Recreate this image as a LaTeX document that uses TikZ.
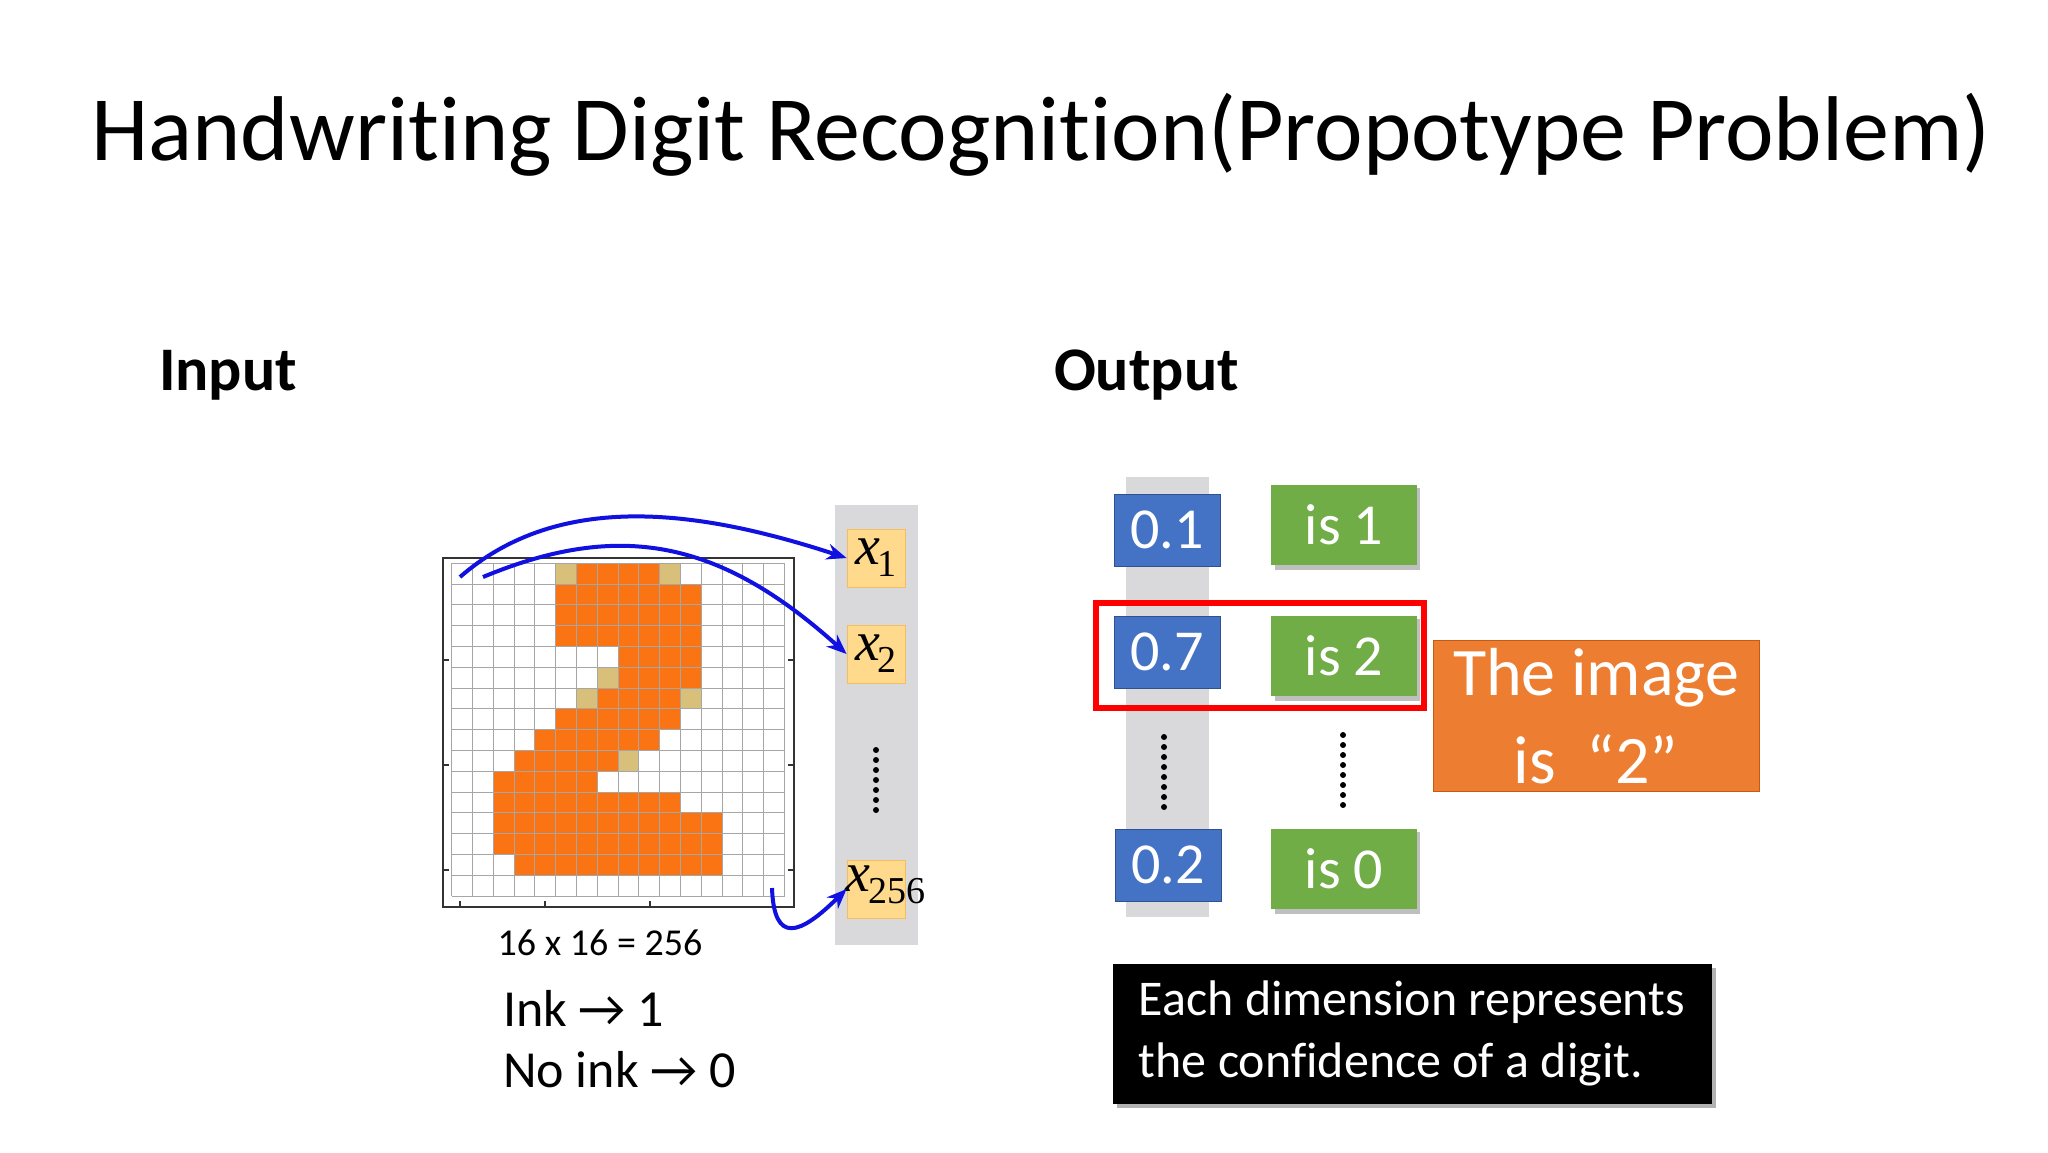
\documentclass[tikz,border=0pt]{standalone}
\usepackage{fontspec}
\setmainfont{Carlito}[Ligatures=NoCommon]
\newfontfamily\serifx{Liberation Serif}
\usetikzlibrary{arrows.meta}
\definecolor{inkor}{HTML}{FA7414}
\definecolor{tan}{HTML}{D8C07A}
\definecolor{xfill}{HTML}{FFD98C}
\definecolor{xline}{HTML}{F2BE60}
\definecolor{colgray}{HTML}{D9D9DB}
\definecolor{bluebox}{HTML}{4472C4}
\definecolor{blueline}{HTML}{2F528F}
\definecolor{greenbox}{HTML}{70AD47}
\definecolor{orbox}{HTML}{ED7D31}
\definecolor{orline}{HTML}{C55A11}
\definecolor{arrowblue}{HTML}{1010E0}
\tikzset{
  xbox/.style={draw=xline,fill=xfill,minimum width=29pt,minimum height=29pt,inner sep=0pt},
  valbox/.style={draw=blueline,fill=bluebox,text=white,minimum width=53pt,minimum height=36pt,inner sep=0pt,font=\fontsize{29}{32}\selectfont},
  isbox/.style={fill=greenbox,text=white,minimum width=73pt,minimum height=40pt,inner sep=0pt,font=\fontsize{29}{32}\selectfont},
  conn/.style={arrowblue,line width=2pt,-{Stealth[length=10pt,width=8pt]}},
  vdots/.style={line width=3pt,dash pattern=on 0pt off 5pt,line cap=round}
}
\begin{document}
\begin{tikzpicture}[x=0.5pt,y=-0.5pt]
\useasboundingbox (0,0) rectangle (2048,1152);
\fill[white] (0,0) rectangle (2048,1152);
% title
\node (title) at (1041,135) {\fontsize{46}{52}\selectfont Handwriting Digit Recognition(Propotype Problem)};
\node[anchor=west] (input) at (152,375) {\fontsize{31}{36}\selectfont\bfseries Input};
\node[anchor=west] (output) at (1047,375) {\fontsize{31}{36}\selectfont\bfseries Output};
% grid image
\fill[white] (443,558) rectangle (794,907);
\foreach \r/\a/\b in {0/6/9,1/5/11,2/5/11,3/5/11,4/8/11,5/8/11,6/7/10,7/5/10,8/4/9,9/3/7,10/2/6,11/2/10,12/2/12,13/2/12,14/3/12}{
  \fill[inkor] (451.7+\a*20.8,563.3+\r*20.8) rectangle (451.7+\b*20.8+20.8,563.3+\r*20.8+20.8);
}
\foreach \c/\r in {5/0,10/0,7/5,6/6,11/6,8/9}{
  \fill[tan] (451.7+\c*20.8,563.3+\r*20.8) rectangle ++(20.8,20.8);
}
\foreach \i in {0,...,16}{
  \draw[gray!70,line width=0.5pt] (451.7+\i*20.8,563.3) -- (451.7+\i*20.8,896.1);
  \draw[gray!70,line width=0.5pt] (451.7,563.3+\i*20.8) -- (784.5,563.3+\i*20.8);
}
\draw[black!80,line width=1.3pt] (443,558) rectangle (794,907);
\foreach \t in {460,545,650}{\draw[black!80,line width=1pt] (\t,907) -- (\t,901);}
\foreach \t in {660,765,870}{\draw[black!80,line width=1pt] (443,\t) -- (449,\t);\draw[black!80,line width=1pt] (794,\t) -- (788,\t);}
\node (dim) at (600,943) {\fontsize{19}{22}\selectfont 16 x 16 = 256};
\node[anchor=west] (ink) at (496,1008) {\fontsize{26}{30}\selectfont Ink → 1};
\node[anchor=west] (noink) at (496,1070) {\fontsize{26}{30}\selectfont No ink → 0};
% input vector
\fill[colgray] (835,505) rectangle (918,945);
\node[xbox] (x1) at (876,558) {\serifx\fontsize{28}{30}\selectfont\itshape x\kern-1pt\raisebox{-6pt}{\upshape\fontsize{19}{20}\selectfont 1}};
\node[xbox] (x2) at (876,654) {\serifx\fontsize{28}{30}\selectfont\itshape x\kern-1pt\raisebox{-6pt}{\upshape\fontsize{19}{20}\selectfont 2}};
\node[xbox] (x256) at (876,889) {};
\node[anchor=west,inner sep=0pt] (x256t) at (845,885) {\serifx\fontsize{28}{30}\selectfont\itshape x\kern-1pt\raisebox{-6pt}{\upshape\fontsize{19}{20}\selectfont 256}};
\coordinate (d1) at (876,750); \coordinate (d2) at (876,818);
\draw[vdots] (d1) -- (d2);
\coordinate (s1) at (460,577);
\coordinate (s2) at (483,577);
\coordinate (s3) at (772,888);
\draw[conn] (s1) .. controls (560,490) and (700,510) .. (x1.west);
\draw[conn] (s2) .. controls (620,520) and (720,540) .. (x2.west);
\draw[conn] (s3) .. controls (774,945) and (800,935) .. (x256.west);
% output
\fill[colgray] (1126,477) rectangle (1209,917);
\node[valbox] (v1) at (1167,530) {0.1};
\node[valbox] (v7) at (1167,652) {0.7};
\node[valbox] (v2) at (1168,865) {0.2};
\foreach \n/\y/\t in {g1/525/is 1,g2/656/is 2,g0/869/is 0}{
  \fill[black!25] (1275,\y-37) rectangle (1420,\y+45);
  \node[isbox] (\n) at (1344,\y) {\t};
}
\coordinate (e1) at (1164,737); \coordinate (e2) at (1164,807);
\draw[vdots] (e1) -- (e2);
\coordinate (f1) at (1343,735); \coordinate (f2) at (1343,805);
\draw[vdots] (f1) -- (f2);
\draw[red,line width=3pt] (1096,603) rectangle (1424,708);
\node[draw=orline,fill=orbox,text=white,minimum width=163pt,minimum height=75.5pt,align=center,font=\fontsize{34}{44}\selectfont] (ans) at (1596,716) {The image\\is \ “2”};
\fill[black!30] (1117,968) rectangle (1716,1108);
\node[fill=black,text=white,minimum width=299.5pt,minimum height=70pt,inner sep=0pt,font=\fontsize{25}{31}\selectfont] (note) at (1412,1034) {\begin{tabular}{@{}l@{}}Each dimension represents\\the confidence of a digit.\end{tabular}};
\end{tikzpicture}
\end{document}
